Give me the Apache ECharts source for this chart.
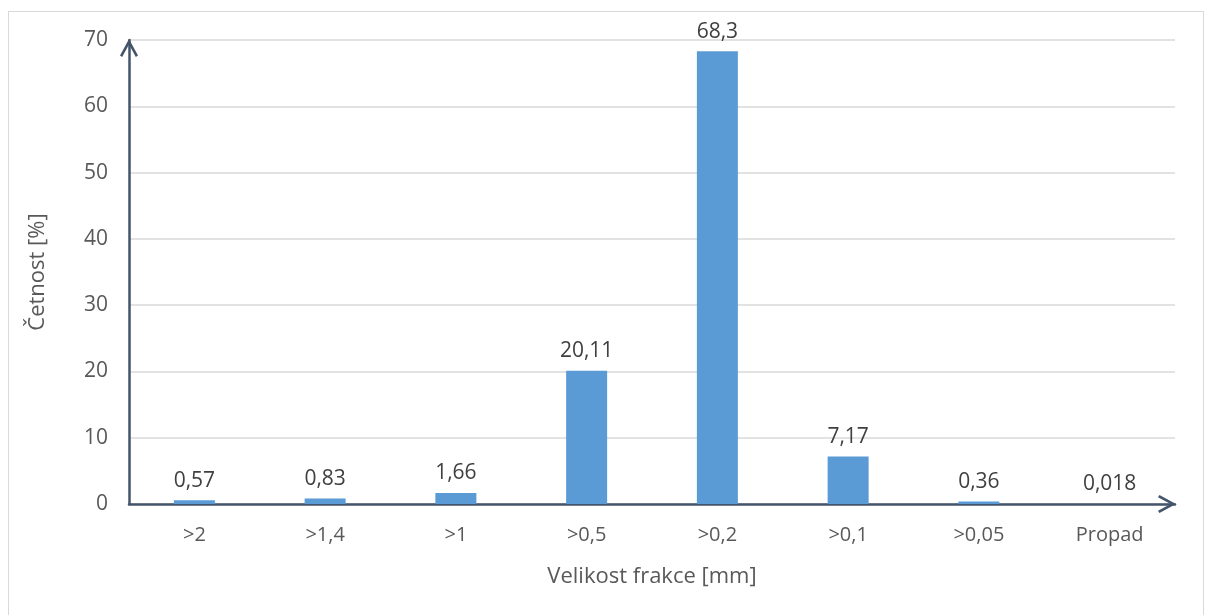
<!DOCTYPE html>
<html><head><meta charset="utf-8">
<script src="https://cdn.jsdelivr.net/npm/echarts@6/dist/echarts.min.js"></script>
<style>html,body{margin:0;padding:0;background:#fff}#c{width:1206px;height:615px}
#frame{position:absolute;left:8px;top:11px;width:1196px;height:620px;border:1px solid #d9d9d9;box-sizing:border-box;pointer-events:none}</style>
</head><body><div id="c"></div><div id="frame"></div>
<script>
const categories = ['>2', '>1,4', '>1', '>0,5', '>0,2', '>0,1', '>0,05', 'Propad'];
const values = [0.57, 0.83, 1.66, 20.11, 68.3, 7.17, 0.36, 0.018];
const labels = ['0,57', '0,83', '1,66', '20,11', '68,3', '7,17', '0,36', '0,018'];
const yTicks = { min: 0, max: 70, interval: 10 };
const xTitle = 'Velikost frakce [mm]';
const yTitle = 'Četnost [%]';

const font = 'Open Sans';
const chev = 'path://M0,9.2 L5,0 L10,9.2 L8.8,10 L5,3 L1.2,10 Z';
const chart = echarts.init(document.getElementById('c'));
chart.setOption({
  animation: false,
  grid: { left: 129, right: 31, top: 40, bottom: 111 },
  xAxis: {
    type: 'category', data: categories,
    axisLine: { lineStyle: { color: '#44546a', width: 2.5 }, symbol: ['none', chev], symbolSize: [20, 18], symbolOffset: [0, -8] },
    axisTick: { show: false },
    axisLabel: { color: '#595959', fontFamily: font, fontSize: 20, margin: 21 },
    name: xTitle, nameLocation: 'middle', nameGap: 62,
    nameTextStyle: { color: '#595959', fontFamily: font, fontSize: 22 }
  },
  yAxis: {
    type: 'value', min: yTicks.min, max: yTicks.max, interval: yTicks.interval,
    axisLine: { show: true, lineStyle: { color: '#44546a', width: 2.5 }, symbol: ['none', chev], symbolSize: [20, 18], symbolOffset: [0, -8] },
    axisTick: { show: false },
    splitLine: { lineStyle: { color: '#d9d9d9', width: 1.5 } },
    axisLabel: { color: '#595959', fontFamily: font, fontSize: 21, margin: 21 },
    name: yTitle, nameLocation: 'middle', nameGap: 80, nameRotate: 90,
    nameTextStyle: { color: '#595959', fontFamily: font, fontSize: 22 }
  },
  series: [{
    type: 'bar', data: values, barWidth: 41,
    itemStyle: { color: '#5b9bd5' },
    label: { show: true, position: 'top', distance: 9, color: '#404040', fontFamily: font, fontSize: 21,
      formatter: p => labels[p.dataIndex] }
  }]
});
</script></body></html>
